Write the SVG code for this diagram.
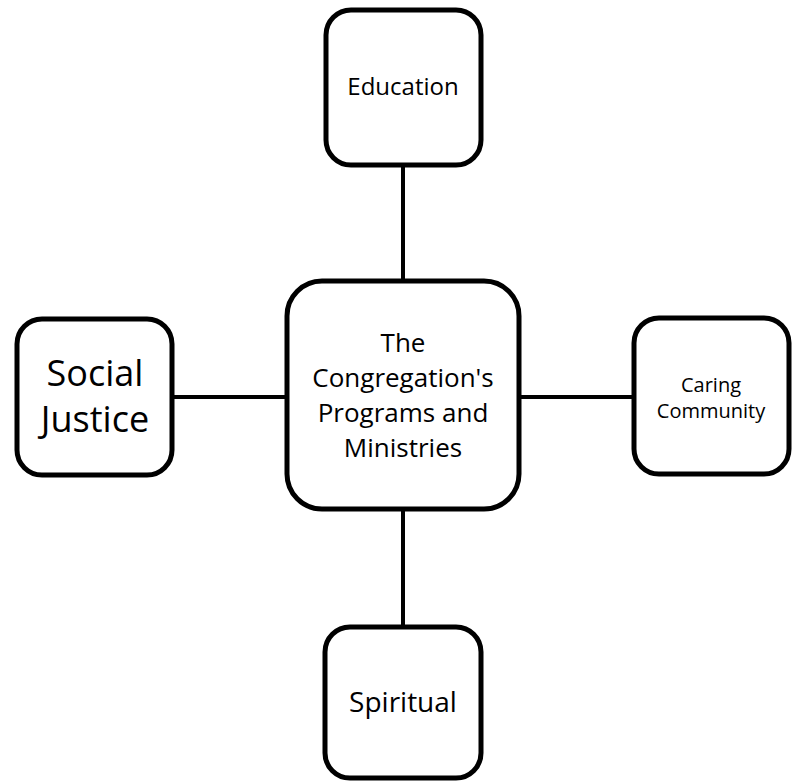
<svg xmlns="http://www.w3.org/2000/svg" width="794" height="783" viewBox="0 0 794 783">
<style>
.box{fill:#fff;stroke:#000;stroke-width:5}
.t{font-family:"Open Sans","Liberation Sans",sans-serif;fill:#000;text-anchor:middle}
.c{stroke:#000;stroke-width:4;fill:none}
</style>
<rect width="794" height="783" fill="#fff"/>
<g id="connectors">
<line class="c" x1="403" y1="166" x2="403" y2="281"/>
<line class="c" x1="403" y1="509" x2="403" y2="627"/>
<line class="c" x1="172" y1="397" x2="287" y2="397"/>
<line class="c" x1="519" y1="397" x2="634" y2="397"/>
</g>
<g id="center">
<rect class="box" x="287" y="281" width="232" height="228" rx="35"/>
<text class="t" font-size="26"><tspan x="403" y="352">The</tspan><tspan x="403" y="387">Congregation's</tspan><tspan x="403" y="422">Programs and</tspan><tspan x="403" y="457">Ministries</tspan></text>
</g>
<g id="education">
<rect class="box" x="326" y="10" width="155" height="155" rx="25"/>
<text class="t" font-size="24" x="403" y="95">Education</text>
</g>
<g id="social">
<rect class="box" x="17" y="319" width="155" height="156" rx="25"/>
<text class="t" font-size="36"><tspan x="95" y="386">Social</tspan><tspan x="95" y="432">Justice</tspan></text>
</g>
<g id="caring">
<rect class="box" x="634" y="318" width="155" height="156" rx="25"/>
<text class="t" font-size="20"><tspan x="711" y="392">Caring</tspan><tspan x="711" y="418">Community</tspan></text>
</g>
<g id="spiritual">
<rect class="box" x="325" y="627" width="156" height="151" rx="25"/>
<text class="t" font-size="28" x="403" y="712">Spiritual</text>
</g>
</svg>
